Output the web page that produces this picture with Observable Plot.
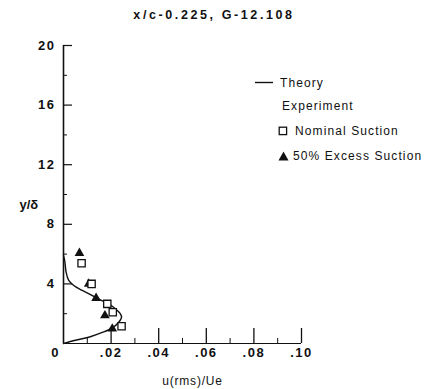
<!DOCTYPE html>
<html><head><meta charset="utf-8">
<script src="https://cdn.jsdelivr.net/npm/d3@7"></script>
<script src="https://cdn.jsdelivr.net/npm/@observablehq/plot@0.6"></script>
<style>
body{margin:0;background:#fff;}
#wrap{position:relative;width:426px;height:389px;font-family:"Liberation Sans",Arial,sans-serif;}
.lg{position:absolute;font-size:12px;letter-spacing:1.1px;line-height:14px;color:#111;white-space:nowrap;}
.sym{position:absolute;line-height:0;}
.sym svg{display:block;}
</style></head><body><div id="wrap"></div>
<script>
const titleText = "x/c-0.225, G-12.108";
const xLabelText = "u(rms)/Ue";
const yLabelText = "y/δ";

const yTicks = [4, 8, 12, 16, 20];
const yTickLabels = ["4", "8", "12", "16", "20"];
const yMinor = [2, 6, 10, 14, 18];
const xTicks = [0, 0.02, 0.04, 0.06, 0.08, 0.10];
const xTickLabels = ["0", ".02", ".04", ".06", ".08", ".10"];
const xMinor = [0.01, 0.03, 0.05, 0.07, 0.09];

// Theory curve
const theoryX = [0.0000, 0.0005, 0.0011, 0.0022, 0.0043, 0.0079, 0.0121, 0.0155, 0.0190, 0.0218, 0.0239, 0.0244, 0.0232, 0.0205, 0.0163, 0.0106, 0.0050, 0.0000];
const theoryY = [5.9, 5.57, 4.79, 4.23, 3.89, 3.56, 3.22, 2.93, 2.66, 2.33, 1.99, 1.77, 1.43, 1.05, 0.74, 0.42, 0.22, 0.0];
// Experiment: nominal suction (open squares)
const nominalX = [0.0076, 0.0118, 0.0184, 0.0207, 0.0244];
const nominalY = [5.39, 4.0, 2.66, 2.1, 1.16];
// Experiment: 50% excess suction (filled triangles)
const excessX = [0.0067, 0.0106, 0.0137, 0.0174, 0.0205];
const excessY = [6.06, 4.0, 3.04, 1.88, 0.99];

const legendLabels = ["Theory", "Experiment", "Nominal Suction", "50% Excess Suction"];

const theory = theoryX.map((x, i) => ({x, y: theoryY[i]}));
const nominal = nominalX.map((x, i) => ({x, y: nominalY[i]}));
const excess = excessX.map((x, i) => ({x, y: excessY[i]}));

const W = 426, H = 389, mL = 63, mR = 125, mT = 45, mB = 46;
const plotW = W - mL - mR, plotH = H - mT - mB;
const ink = "#111";

const chart = Plot.plot({
  width: W, height: H,
  marginLeft: mL, marginRight: mR, marginTop: mT, marginBottom: mB,
  x: {domain: [0, 0.10], axis: null},
  y: {domain: [0, 20], axis: null},
  style: {fontFamily: "Liberation Sans, Arial, sans-serif", background: "white", color: ink, overflow: "visible"},
  marks: [
    Plot.ruleX([0], {y1: 0, y2: 20, stroke: ink, strokeWidth: 1.6}),
    Plot.ruleY([0], {x1: 0, x2: 0.10, stroke: ink, strokeWidth: 1.2}),
    Plot.tickY(yTicks, {y: d => d, insetRight: plotW - 9, stroke: ink, strokeWidth: 1.2}),
    Plot.tickY(yMinor, {y: d => d, insetRight: plotW - 4, stroke: ink, strokeWidth: 1}),
    Plot.tickX(xTicks.slice(1), {x: d => d, insetTop: plotH - 15, stroke: ink, strokeWidth: 1.3}),
    Plot.tickX(xMinor, {x: d => d, insetTop: plotH - 5, stroke: ink, strokeWidth: 1}),
    Plot.text(yTicks, {y: d => d, text: (d, i) => yTickLabels[i], frameAnchor: "left", dx: -8, textAnchor: "end", lineAnchor: "middle", fontSize: 13, fontWeight: "bold", fill: ink, className: "ticklab"}),
    Plot.text(xTicks.slice(1), {x: d => d, text: (d, i) => xTickLabels[i + 1], frameAnchor: "bottom", dy: 9.5, lineAnchor: "middle", fontSize: 13, fontWeight: "bold", fill: ink, className: "ticklab"}),
    Plot.text(xTicks.slice(0, 1), {x: d => d, text: (d, i) => xTickLabels[i], frameAnchor: "bottom", dx: -8, dy: 9.5, lineAnchor: "middle", fontSize: 13, fontWeight: "bold", fill: ink, className: "ticklab"}),
    Plot.text([titleText], {text: d => d, frameAnchor: "top", dx: 31.5, dy: -31, lineAnchor: "middle", fontSize: 12.5, fontWeight: "bold", fill: ink, className: "ttl"}),
    Plot.text([xLabelText], {text: d => d, frameAnchor: "bottom", dx: 10, dy: 37.5, lineAnchor: "middle", fontSize: 12, fill: ink, className: "xlab"}),
    Plot.text([yLabelText], {text: d => d, frameAnchor: "left", dx: -44, dy: 10, lineAnchor: "middle", fontSize: 13, fontWeight: "bold", fill: ink}),
    Plot.line(theory, {x: "x", y: "y", curve: "catmull-rom", stroke: ink, strokeWidth: 1.4}),
    Plot.dot(excess, {x: "x", y: "y", symbol: "triangle", r: 3.6, fill: ink, stroke: "none"}),
    Plot.dot(nominal, {x: "x", y: "y", symbol: "square", r: 4.1, fill: "white", stroke: ink, strokeWidth: 1.3})
  ]
});

d3.select(chart).selectAll(".ticklab, .ticklab text").style("letter-spacing", "1.5px");
d3.select(chart).selectAll(".ttl, .ttl text").style("letter-spacing", "2.6px");
d3.select(chart).selectAll(".xlab, .xlab text").style("letter-spacing", "0.8px");

const wrap = document.getElementById("wrap");
wrap.appendChild(chart);

// Legend overlay
function add(html, cls, left, top) {
  const el = document.createElement("div");
  el.className = cls;
  el.style.left = left + "px";
  el.style.top = top + "px";
  el.innerHTML = html;
  wrap.appendChild(el);
}
add('<svg width="18" height="3"><line x1="0" y1="1.5" x2="18" y2="1.5" stroke="' + ink + '" stroke-width="1.4"/></svg>', "sym", 255, 81);
add(legendLabels[0], "lg", 280, 75.5);
add(legendLabels[1], "lg", 282, 98.5);
add('<svg width="10" height="10"><rect x="1.2" y="1.2" width="7.4" height="7.4" fill="white" stroke="' + ink + '" stroke-width="1.3"/></svg>', "sym", 278, 126);
add(legendLabels[2], "lg", 295, 124);
add('<svg width="11" height="10"><path d="M5.5,0.5 L10.5,9.5 L0.5,9.5 Z" fill="' + ink + '"/></svg>', "sym", 277.5, 150.5);
add(legendLabels[3], "lg", 293, 148.5);
</script></body></html>
